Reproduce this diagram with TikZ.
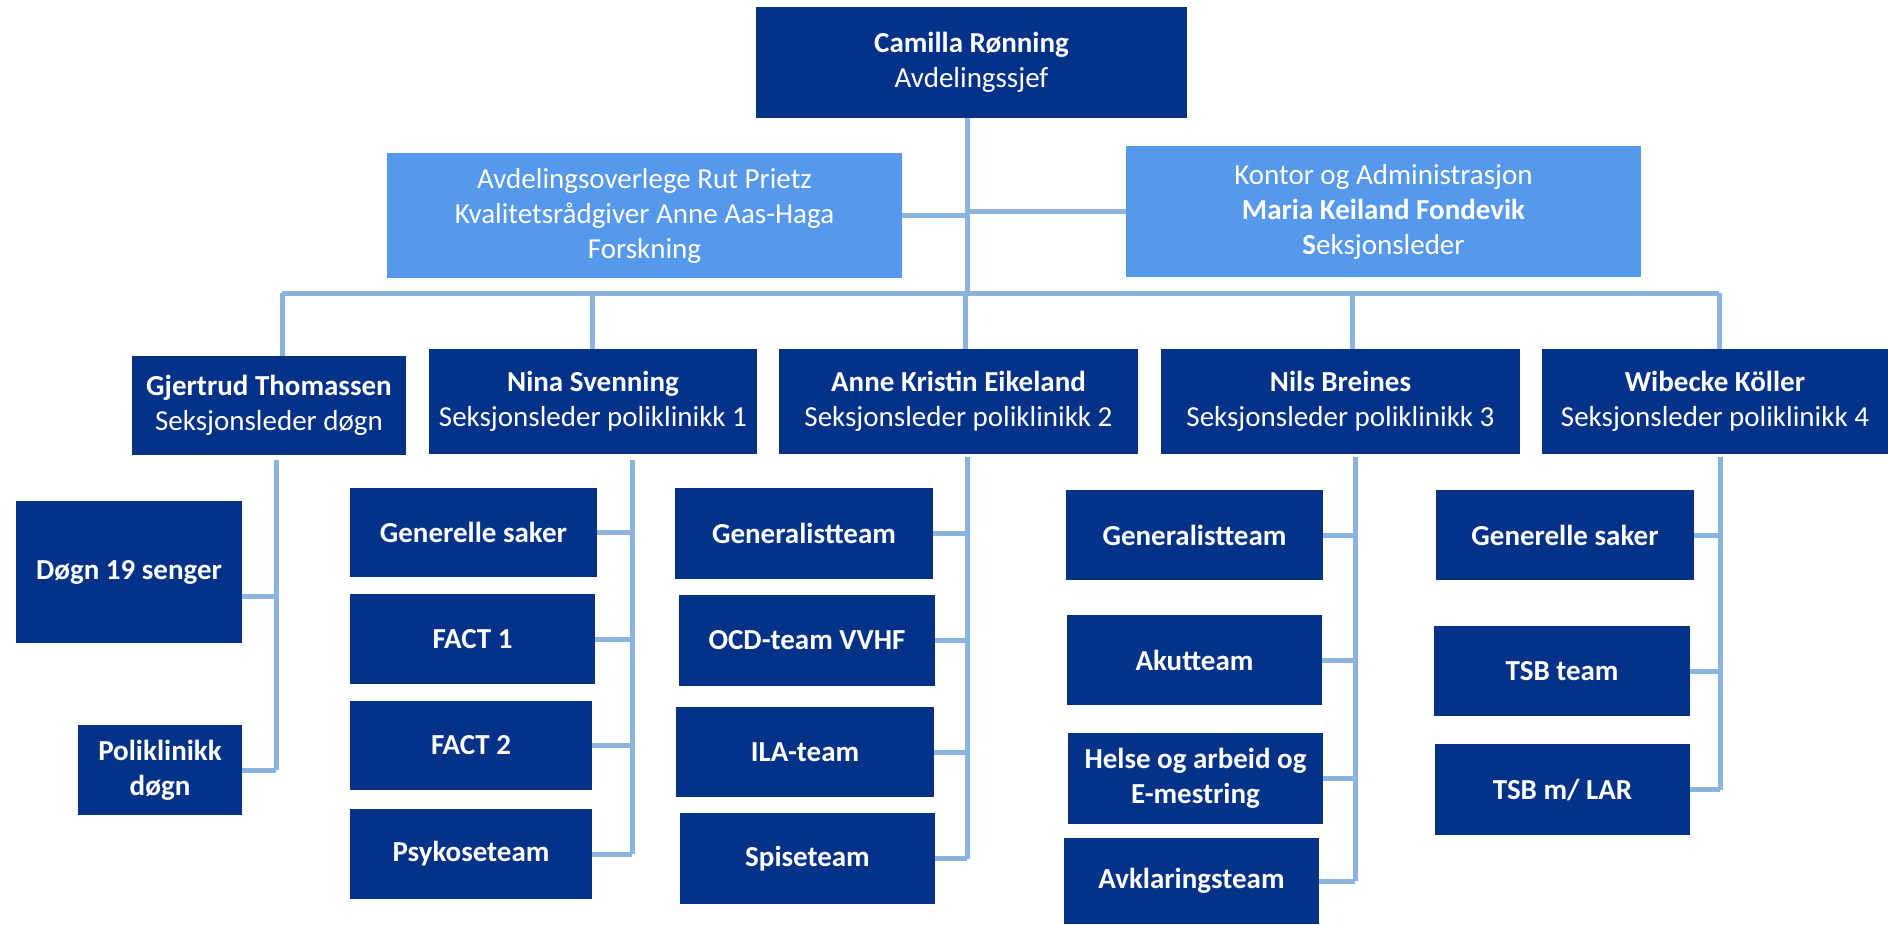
\documentclass[tikz,border=0pt]{standalone}
\usepackage{fontspec}
\setmainfont{Carlito}

\definecolor{orgdark}{HTML}{033288}
\definecolor{orglight}{HTML}{5698EC}
\definecolor{orgline}{HTML}{8AB3DD}

\tikzset{
    unitbox/.style={inner sep=0pt, align=center, text=white, font=\fontsize{29}{35}\selectfont},
    leaderbox/.style={unitbox, fill=orgdark},
    staffbox/.style={unitbox, fill=orglight},
    teambox/.style={unitbox, fill=orgdark, font=\fontsize{29}{35}\selectfont\bfseries},
    boxsize/.style 2 args={minimum width=#1pt, minimum height=#2pt},
    link/.style={draw=orgline, line width=5pt}
}

\begin{document}
\begin{tikzpicture}[x=1pt, y=-1pt]
    \useasboundingbox (0,0) rectangle (1888,924);

    % Top of the chart
    \node[leaderbox, boxsize={431}{111}] (chief) at (971.5,62.5) {\textbf{Camilla Rønning}\\Avdelingssjef};
    \node[staffbox, boxsize={515}{125}] (staff) at (644.5,215.5) {Avdelingsoverlege Rut Prietz\\Kvalitetsrådgiver Anne Aas-Haga\\Forskning};
    \node[staffbox, boxsize={515}{131}] (admin) at (1383.5,211.5) {Kontor og Administrasjon\\\textbf{Maria Keiland Fondevik}\\\textbf{S}eksjonsleder};

    % Section leaders
    \node[leaderbox, boxsize={274}{99}] (gjertrud) at (269,405.5) {\textbf{Gjertrud Thomassen}\\Seksjonsleder døgn};
    \node[leaderbox, boxsize={328}{105}] (nina) at (593,401.5) {\textbf{Nina Svenning}\\Seksjonsleder poliklinikk 1};
    \node[leaderbox, boxsize={359}{105}] (anne) at (958.5,401.5) {\textbf{Anne Kristin Eikeland}\\Seksjonsleder poliklinikk 2};
    \node[leaderbox, boxsize={359}{105}] (nils) at (1340.5,401.5) {\textbf{Nils Breines}\\Seksjonsleder poliklinikk 3};
    \node[leaderbox, boxsize={346}{105}] (wibecke) at (1715,401.5) {\textbf{Wibecke Köller}\\Seksjonsleder poliklinikk 4};

    % Teams
    \node[teambox, boxsize={226}{142}] (dogn) at (129,572) {Døgn 19 senger};
    \node[teambox, boxsize={164}{90}] (polidogn) at (160,770) {Poliklinikk\\døgn};

    \node[teambox, boxsize={247}{89}] (generelle1) at (473.5,532.5) {Generelle saker};
    \node[teambox, boxsize={245}{90}] (fact1) at (472.5,639) {FACT 1};
    \node[teambox, boxsize={242}{89}] (fact2) at (471,745.5) {FACT 2};
    \node[teambox, boxsize={242}{90}] (psykose) at (471,854) {Psykoseteam};

    \node[teambox, boxsize={258}{91}] (generalist2) at (804,533.5) {Generalistteam};
    \node[teambox, boxsize={256}{91}] (ocd) at (807,640.5) {OCD-team VVHF};
    \node[teambox, boxsize={258}{90}] (ila) at (805,752) {ILA-team};
    \node[teambox, boxsize={255}{91}] (spise) at (807.5,858.5) {Spiseteam};

    \node[teambox, boxsize={257}{90}] (generalist3) at (1194.5,535) {Generalistteam};
    \node[teambox, boxsize={255}{90}] (akutt) at (1194.5,660) {Akutteam};
    \node[teambox, boxsize={255}{91}] (helse) at (1195.5,778.5) {Helse og arbeid og\\E-mestring};
    \node[teambox, boxsize={255}{86}] (avklaring) at (1191.5,881) {Avklaringsteam};

    \node[teambox, boxsize={258}{90}] (generelle4) at (1565,535) {Generelle saker};
    \node[teambox, boxsize={256}{90}] (tsb) at (1562,671) {TSB team};
    \node[teambox, boxsize={255}{91}] (tsblar) at (1562.5,789.5) {TSB m/ LAR};

    % Main spine and bus
    \coordinate (spine) at (967,293);
    \coordinate (busA) at (282,293);
    \coordinate (busB) at (592,293);
    \coordinate (busC) at (965,293);
    \coordinate (busD) at (1352,293);
    \coordinate (busE) at (1719,293);

    \draw[link] (chief.south -| spine) -- (spine);
    \draw[link] (staff.east) -- (staff.east -| spine);
    \draw[link] (admin.west) -- (admin.west -| spine);
    \draw[link] (busA) -- (busE);
    \foreach \b/\n in {busA/gjertrud, busB/nina, busC/anne, busD/nils, busE/wibecke}
        \draw[link] (\b) -- (\b |- \n.north);

    % Team combs
    \coordinate (combG) at (276,460);
    \coordinate (combN) at (632,460);
    \coordinate (combA) at (967,457);
    \coordinate (combS) at (1355,457);
    \coordinate (combW) at (1720,457);

    \draw[link] (combG) -- (combG |- polidogn.east);
    \draw[link] ([yshift=-24pt]dogn.east) -- ([yshift=-24pt]dogn.east -| combG);
    \draw[link] (polidogn.east) -- (polidogn.east -| combG);

    \draw[link] (combN) -- (combN |- psykose.east);
    \foreach \n in {generelle1, fact1, fact2, psykose}
        \draw[link] (\n.east) -- (\n.east -| combN);

    \draw[link] (combA) -- (combA |- spise.east);
    \foreach \n in {generalist2, ocd, ila, spise}
        \draw[link] (\n.east) -- (\n.east -| combA);

    \draw[link] (combS) -- (combS |- avklaring.east);
    \foreach \n in {generalist3, akutt, helse, avklaring}
        \draw[link] (\n.east) -- (\n.east -| combS);

    \draw[link] (combW) -- (combW |- tsblar.east);
    \foreach \n in {generelle4, tsb, tsblar}
        \draw[link] (\n.east) -- (\n.east -| combW);
\end{tikzpicture}
\end{document}
